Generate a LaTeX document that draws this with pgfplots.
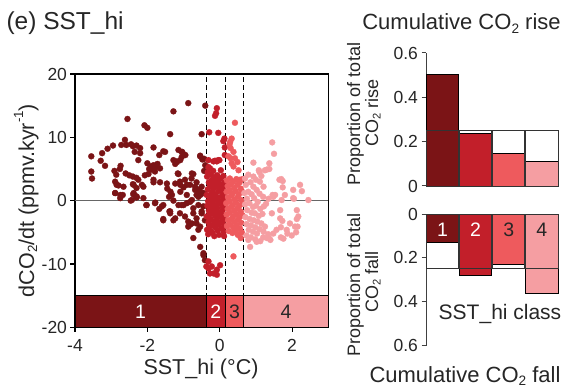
\documentclass[border=0pt]{standalone}
\usepackage{pgfplots}
\pgfplotsset{compat=1.18}
\usepackage{fontspec}
\setmainfont{Liberation Sans}
\definecolor{cA}{HTML}{7B1416}
\definecolor{cB}{HTML}{C21F2A}
\definecolor{cC}{HTML}{EE5A5D}
\definecolor{cD}{HTML}{F59EA2}
\definecolor{txt}{HTML}{262626}
\newcommand\sub[1]{\raisebox{-0.28ex}{\scalebox{0.62}{#1}}}
\newcommand\sups[1]{\raisebox{0.95ex}{\scalebox{0.62}{#1}}}
\pgfplotstableread{
x y
-0.87 15.4
-0.40 15.0
-1.28 14.1
-2.55 12.9
-2.08 11.9
-2.00 11.5
-1.37 10.5
-0.50 10.5
-2.62 9.6
-2.72 8.8
-2.95 8.7
-3.10 8.2
-3.25 7.5
-3.55 7.0
-3.29 6.3
-3.17 5.5
-3.55 4.6
-3.53 3.5
-2.91 4.7
-2.86 4.1
-2.74 5.5
-2.76 5.0
-2.89 3.0
-2.80 2.4
-2.89 1.2
-2.75 0.4
-2.68 0.9
-2.39 1.0
-2.30 0.5
-2.60 4.3
-2.50 4.0
-2.40 3.8
-2.30 3.6
-2.25 3.3
-2.15 2.5
-2.40 2.6
-2.30 2.0
-2.58 8.8
-2.45 8.9
-2.40 8.6
-2.30 8.7
-2.20 8.3
-2.35 7.7
-2.20 7.5
-1.83 8.4
-2.25 6.4
-1.56 7.8
-1.67 7.2
-2.00 5.9
-1.90 5.4
-1.83 5.6
-1.75 5.3
-1.88 4.9
-1.79 4.6
-1.97 4.2
-2.07 4.0
-1.65 5.1
-1.83 2.9
-1.65 2.9
-1.72 5.8
-1.95 5.0
-1.14 8.0
-1.04 7.7
-0.95 7.2
-1.09 6.4
-1.18 6.1
-1.23 5.8
-1.51 7.7
-0.54 7.0
-0.48 6.5
-0.40 5.6
-1.14 4.2
-0.73 4.2
-1.23 2.7
-1.09 2.5
-1.00 2.1
-0.82 2.5
-0.68 1.7
-0.54 1.4
-1.45 1.9
-1.36 1.4
-1.40 0.6
-1.16 4.3
-1.10 3.0
-0.91 2.5
-0.77 4.3
-0.68 2.2
-0.59 1.7
-1.28 6.4
-1.19 6.2
-1.05 6.9
-1.05 7.7
-0.99 7.3
-0.54 7.1
-0.43 6.6
-0.43 4.7
-0.50 1.1
-0.64 0.9
-2.85 2.5
-2.66 2.2
-2.38 2.5
-2.11 2.2
-1.83 3.3
-1.46 2.7
-2.89 1.2
-2.75 0.9
-2.38 1.2
-2.29 0.6
-2.43 0.1
-2.02 -0.7
-1.79 -0.4
-1.56 -0.7
-2.11 0.4
-1.56 -3.1
-1.28 -3.1
-1.37 -2.0
-1.10 -2.0
-1.05 -0.7
-0.91 -0.4
-0.77 0.1
-0.73 -2.0
-0.54 0.9
-0.64 -3.6
-0.82 -3.8
-0.54 -4.1
-0.50 -2.0
-0.45 -0.9
-0.41 -3.1
-0.73 -5.9
-0.54 -7.3
-0.45 -8.6
-0.41 -9.4
-1.37 -1.7
-1.23 -2.8
-0.96 -2.5
-0.87 -3.3
-0.77 -3.6
-0.59 -4.6
-0.45 -8.3
-1.28 0.0
-1.14 -0.7
-1.00 -0.7
-0.82 -0.2
-0.73 -1.2
-0.59 -0.7
-0.50 -1.7
-0.64 -2.8
-0.87 -4.1
-2.46 0.0
-2.31 0.7
-2.03 -0.7
-1.78 -0.3
-1.67 -1.3
-1.60 -0.9
-1.56 -2.9
-1.39 -1.7
-0.96 3.3
-0.78 3.5
-0.64 2.9
-0.50 2.2
-0.45 1.2
-0.59 0.6
-0.91 0.9
-1.09 1.4
-1.32 0.9
}\classA
\pgfplotstableread{
x y
-0.08 14.6
-0.10 13.8
-0.13 13.4
-0.29 10.8
-0.04 10.7
0.13 9.8
0.10 9.4
0.14 8.4
0.14 7.2
-0.31 6.4
-0.13 6.3
-0.04 6.4
-0.27 5.1
-0.31 5.3
-0.17 6.2
-0.08 6.2
-0.01 6.4
-0.31 -10.7
-0.27 -11.5
-0.08 -10.9
0.01 -10.2
-0.08 -11.7
-0.17 -11.5
-0.37 -10.4
-0.31 -9.6
-0.22 -10.4
-0.35 3.8
-0.30 2.9
-0.33 1.8
-0.36 0.9
-0.28 0.2
-0.34 -0.8
-0.30 -1.6
-0.36 -2.5
-0.31 -3.4
-0.35 -4.6
-0.32 -5.3
-0.25 4.1
-0.22 3.2
-0.26 2.3
-0.20 1.4
-0.24 0.6
-0.21 -0.3
-0.26 -1.1
-0.22 -2.0
-0.25 -2.9
-0.20 -3.9
-0.24 -4.8
-0.16 3.7
-0.13 2.7
-0.17 1.9
-0.12 1.0
-0.15 0.1
-0.11 -0.7
-0.17 -1.5
-0.13 -2.4
-0.16 -3.3
-0.12 -4.2
-0.15 -5.6
-0.07 4.0
-0.04 3.0
-0.08 2.2
-0.03 1.5
-0.06 0.5
-0.02 -0.4
-0.07 -1.2
-0.04 -2.1
-0.08 -3.0
-0.03 -3.8
-0.06 -4.7
0.02 3.5
0.05 2.5
0.01 1.7
0.06 0.8
0.03 -0.1
0.07 -0.9
0.02 -1.8
0.06 -2.7
0.01 -3.5
0.05 -4.4
0.10 3.9
0.13 2.9
0.09 2.0
0.12 1.2
0.10 0.3
0.14 -0.5
0.09 -1.4
0.13 -2.3
0.10 -3.1
0.14 -4.0
0.11 -4.9
-0.28 2.6
-0.19 2.8
-0.10 3.3
-0.01 2.6
0.08 1.5
-0.23 1.1
-0.14 0.6
-0.05 -0.1
0.04 -0.5
-0.32 -0.1
-0.18 -0.9
-0.09 -1.7
0.00 -2.4
-0.27 -2.1
-0.11 -3.6
-0.29 -4.1
0.07 -3.4
-0.20 -5.1
-0.02 -5.4
0.12 -5.6
-0.18 4.7
0.03 4.8
-0.33 4.5
}\classB
\pgfplotstableread{
x y
0.42 12.3
0.33 9.8
0.29 9.3
0.27 8.9
0.30 8.3
0.38 7.7
0.24 7.0
0.30 6.7
0.42 6.7
0.49 6.1
0.33 5.9
0.38 5.4
0.52 4.8
0.56 3.3
0.63 3.4
0.38 -8.8
0.50 -5.4
0.58 -5.9
0.20 3.2
0.28 3.5
0.37 3.0
0.46 3.4
0.55 2.9
0.22 2.3
0.31 2.6
0.40 2.0
0.49 2.5
0.58 1.9
0.19 1.4
0.27 1.7
0.35 1.1
0.44 1.5
0.53 1.0
0.62 1.4
0.23 0.5
0.32 0.8
0.41 0.2
0.50 0.6
0.59 0.1
0.18 -0.4
0.27 -0.1
0.36 -0.7
0.45 -0.3
0.54 -0.8
0.63 -0.5
0.22 -1.3
0.31 -1.0
0.40 -1.6
0.49 -1.2
0.58 -1.7
0.19 -2.2
0.28 -1.9
0.37 -2.5
0.46 -2.1
0.55 -2.6
0.63 -2.3
0.23 -3.1
0.32 -2.9
0.41 -3.4
0.50 -3.0
0.59 -3.5
0.20 -4.0
0.29 -3.8
0.38 -4.3
0.47 -3.9
0.56 -4.4
0.25 -4.8
0.35 -5.1
0.44 -4.7
0.52 -5.3
0.61 -5.0
}\classC
\pgfplotstableread{
x y
1.45 9.2
1.50 7.4
0.93 6.0
1.10 4.5
1.08 4.8
1.30 4.9
1.37 5.0
1.25 4.8
1.37 5.9
1.70 3.4
1.74 3.1
2.22 2.5
2.27 1.5
1.46 0.9
2.03 0.4
2.45 0.1
1.71 0.1
2.05 0.3
1.48 0.6
1.67 -1.5
2.13 -1.5
1.73 -3.2
2.13 -2.9
1.69 -4.2
2.15 -4.1
2.11 -5.0
1.99 -5.5
1.87 -5.2
1.69 -5.8
1.76 -6.0
1.37 -6.0
1.40 -6.2
1.34 -5.3
1.25 -4.1
1.21 -4.9
1.48 -5.2
1.57 -4.6
1.85 -4.6
2.08 -4.1
2.17 -2.5
1.94 -3.6
1.67 -2.8
1.44 -2.0
1.53 0.9
1.80 0.9
2.03 1.7
1.65 3.3
1.74 2.1
0.70 3.5
0.79 4.1
0.93 3.8
1.11 3.0
1.21 2.2
0.93 2.2
1.02 1.7
0.79 1.4
0.68 1.2
0.72 2.5
0.85 2.9
1.00 3.3
1.15 3.9
0.88 1.0
1.10 1.1
1.20 0.6
0.75 0.3
0.95 0.4
1.05 -0.2
0.70 -0.6
0.82 -0.4
0.92 -1.0
1.00 -0.8
1.12 -1.3
1.22 -0.9
0.76 -1.5
0.88 -1.9
0.97 -2.0
1.08 -2.4
1.18 -2.1
0.71 -2.6
0.83 -2.9
0.94 -3.1
1.04 -3.3
1.15 -3.6
0.74 -3.7
0.86 -3.9
0.98 -4.2
1.10 -4.5
0.80 -4.6
0.92 -4.9
1.03 -5.2
0.74 -5.5
0.86 -5.8
0.98 -6.1
1.12 -6.4
0.79 -6.2
1.02 -6.5
0.84 -7.3
1.20 -5.8
1.30 -5.9
1.35 0.3
1.28 -0.5
}\classD
\begin{document}
\begin{tikzpicture}[every node/.style={text=txt}]
\useasboundingbox (0pt,0pt) rectangle (574pt,389pt);
\pgfplotsset{
  every axis/.append style={
    scale only axis,
    tick label style={font=\fontsize{17.5}{20}\selectfont, text=txt},
    /pgf/number format/assume math mode=true,
    tick align=outside,
    major tick length=4.5pt,
  }
}
% main scatter
\begin{axis}[
  at={(75pt,61.7pt)}, anchor=south west,
  width=253.3pt, height=253.3pt,
  xmin=-4, xmax=3, ymin=-20, ymax=20,
  xtick={-4,-2,0,2}, ytick={-20,-10,0,10,20},
  tick pos=left,
  xticklabel style={yshift=-4pt},
  axis line style={black, line width=1.1pt},
  tick style={black, line width=1.1pt},
]
\addplot[only marks, cA, mark=*, mark size=3pt, mark options={solid, draw=cA, fill=cA, line width=0.3pt}] table {\classA};
\addplot[only marks, cB, mark=*, mark size=3pt, mark options={solid, draw=cB, fill=cB, line width=0.3pt}] table {\classB};
\addplot[only marks, cC, mark=*, mark size=3pt, mark options={solid, draw=cC, fill=cC, line width=0.3pt}] table {\classC};
\addplot[only marks, cD, mark=*, mark size=3pt, mark options={solid, draw=cD, fill=cD, line width=0.3pt}] table {\classD};
\addplot[black!60, line width=1.3pt] coordinates {(-4,0) (3,0)};
\addplot[black, line width=0.9pt, dash pattern=on 5pt off 3pt] coordinates {(-0.38,19.5) (-0.38,-15)};
\addplot[black, line width=0.9pt, dash pattern=on 5pt off 3pt] coordinates {(0.165,19.5) (0.165,-15)};
\addplot[black, line width=0.9pt, dash pattern=on 5pt off 3pt] coordinates {(0.66,19.5) (0.66,-15)};
\addplot[fill=cA, draw=black, line width=0.9pt] coordinates {(-4,-20) (-0.38,-20) (-0.38,-15) (-4,-15)} --cycle;
\addplot[fill=cB, draw=black, line width=0.9pt] coordinates {(-0.38,-20) (0.165,-20) (0.165,-15) (-0.38,-15)} --cycle;
\addplot[fill=cC, draw=black, line width=0.9pt] coordinates {(0.165,-20) (0.66,-20) (0.66,-15) (0.165,-15)} --cycle;
\addplot[fill=cD, draw=black, line width=0.9pt] coordinates {(0.66,-20) (3,-20) (3,-15) (0.66,-15)} --cycle;
\node[font=\fontsize{19.5}{22}\selectfont, text=white] at (axis cs:-2.19,-17.5) {1};
\node[font=\fontsize{19.5}{22}\selectfont, text=white] at (axis cs:-0.11,-17.5) {2};
\node[font=\fontsize{19.5}{22}\selectfont, text=txt] at (axis cs:0.41,-17.5) {3};
\node[font=\fontsize{19.5}{22}\selectfont, text=txt] at (axis cs:1.83,-17.5) {4};
\end{axis}
% top right: cumulative rise
\begin{axis}[
  at={(426pt,203pt)}, anchor=south west,
  width=132.3pt, height=133pt,
  xmin=0.5, xmax=4.5, ymin=0, ymax=0.6,
  axis x line=none, axis y line*=left,
  axis line style={-, black!75, line width=1pt},
  tick style={black!75, line width=1pt},
  ytick={0,0.2,0.4,0.6}, yticklabels={0,0.2,0.4,0.6},
  clip=false,
]
\addplot[fill=cA, draw=black, line width=0.9pt] coordinates {(0.5,0) (1.49,0) (1.49,0.505) (0.5,0.505)} --cycle;
\addplot[fill=cB, draw=black, line width=0.9pt] coordinates {(1.51,0) (2.49,0) (2.49,0.235) (1.51,0.235)} --cycle;
\addplot[fill=cC, draw=black, line width=0.9pt] coordinates {(2.51,0) (3.49,0) (3.49,0.145) (2.51,0.145)} --cycle;
\addplot[fill=cD, draw=black, line width=0.9pt] coordinates {(3.51,0) (4.49,0) (4.49,0.11) (3.51,0.11)} --cycle;
\addplot[draw=black!80, line width=0.8pt] coordinates {(0.5,0) (1.49,0) (1.49,0.25) (0.5,0.25)} --cycle;
\addplot[draw=black!80, line width=0.8pt] coordinates {(1.51,0) (2.49,0) (2.49,0.25) (1.51,0.25)} --cycle;
\addplot[draw=black!80, line width=0.8pt] coordinates {(2.51,0) (3.49,0) (3.49,0.25) (2.51,0.25)} --cycle;
\addplot[draw=black!80, line width=0.8pt] coordinates {(3.51,0) (4.49,0) (4.49,0.25) (3.51,0.25)} --cycle;
\end{axis}
% bottom right: cumulative fall
\begin{axis}[
  at={(426pt,43.3pt)}, anchor=south west,
  width=132.3pt, height=131.7pt,
  xmin=0.5, xmax=4.5, ymin=0, ymax=0.6, y dir=reverse,
  axis x line=none, axis y line*=left,
  axis line style={-, black!75, line width=1pt},
  tick style={black!75, line width=1pt},
  ytick={0,0.2,0.4,0.6}, yticklabels={0,0.2,0.4,0.6},
  clip=false,
]
\addplot[fill=cA, draw=black, line width=0.9pt] coordinates {(0.5,0) (1.49,0) (1.49,0.13) (0.5,0.13)} --cycle;
\addplot[fill=cB, draw=black, line width=0.9pt] coordinates {(1.51,0) (2.49,0) (2.49,0.28) (1.51,0.28)} --cycle;
\addplot[fill=cC, draw=black, line width=0.9pt] coordinates {(2.51,0) (3.49,0) (3.49,0.23) (2.51,0.23)} --cycle;
\addplot[fill=cD, draw=black, line width=0.9pt] coordinates {(3.51,0) (4.49,0) (4.49,0.36) (3.51,0.36)} --cycle;
\addplot[draw=black!80, line width=0.8pt] coordinates {(0.5,0) (1.49,0) (1.49,0.25) (0.5,0.25)} --cycle;
\addplot[draw=black!80, line width=0.8pt] coordinates {(1.51,0) (2.49,0) (2.49,0.25) (1.51,0.25)} --cycle;
\addplot[draw=black!80, line width=0.8pt] coordinates {(2.51,0) (3.49,0) (3.49,0.25) (2.51,0.25)} --cycle;
\addplot[draw=black!80, line width=0.8pt] coordinates {(3.51,0) (4.49,0) (4.49,0.25) (3.51,0.25)} --cycle;
\node[font=\fontsize{19.5}{22}\selectfont, text=white] at (axis cs:1,0.072) {1};
\node[font=\fontsize{19.5}{22}\selectfont, text=white] at (axis cs:2,0.072) {2};
\node[font=\fontsize{19.5}{22}\selectfont, text=txt] at (axis cs:3,0.072) {3};
\node[font=\fontsize{19.5}{22}\selectfont, text=txt] at (axis cs:4,0.072) {4};
\end{axis}
% texts
\node[anchor=base west, font=\fontsize{24.5}{28}\selectfont] at (3pt,359pt) {(e) SST\_hi};
\node[anchor=base, font=\fontsize{22}{26}\selectfont] at (461.5pt,359pt) {Cumulative CO\sub{2} rise};
\node[anchor=base, font=\fontsize{22}{26}\selectfont] at (465pt,6.5pt) {Cumulative CO\sub{2} fall};
\node[anchor=base, font=\fontsize{21}{25}\selectfont] at (500pt,70pt) {SST\_hi class};
\node[anchor=base, font=\fontsize{21.5}{25}\selectfont] at (201pt,15pt) {SST\_hi (°C)};
\node[anchor=base, rotate=90, font=\fontsize{21.5}{25}\selectfont] at (34pt,188.5pt) {dCO\sub{2}/dt (ppmv.kyr\sups{-1})};
\node[anchor=base, rotate=90, font=\fontsize{18}{21}\selectfont] at (360pt,275pt) {Proportion of total};
\node[anchor=base, rotate=90, font=\fontsize{18}{21}\selectfont] at (378pt,276pt) {CO\sub{2} rise};
\node[anchor=base, rotate=90, font=\fontsize{18}{21}\selectfont] at (360pt,104pt) {Proportion of total};
\node[anchor=base, rotate=90, font=\fontsize{18}{21}\selectfont] at (378pt,107pt) {CO\sub{2} fall};
\end{tikzpicture}
\end{document}
